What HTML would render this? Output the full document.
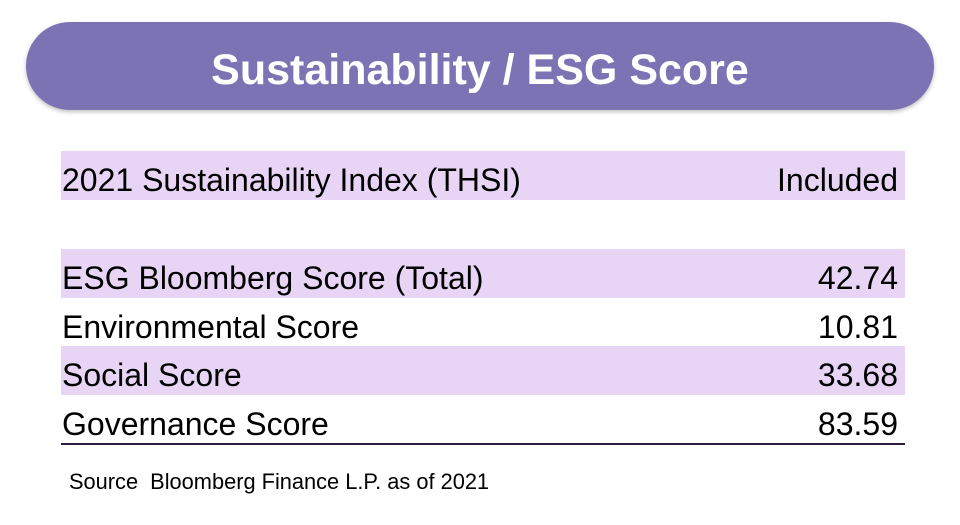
<!DOCTYPE html>
<html><head><style>
body{margin:0;width:960px;height:525px;background:#fff;position:relative;font-family:"Liberation Sans",sans-serif;overflow:hidden}
.pill{position:absolute;left:26px;top:22px;width:908px;height:88px;border-radius:44px;background:#7b73b3;box-shadow:0 2px 4px rgba(0,0,0,.25);color:#fff;font-weight:bold;font-size:43px;text-align:center;line-height:96px}
.row{position:absolute;left:61px;width:844px;height:49px;font-size:32px;line-height:58px;color:#000}
.row span.l{position:absolute;left:1px}
.row span.r{position:absolute;right:7px}
.p{background:#e8d5f5}
.line{position:absolute;left:61px;top:443px;width:844px;height:2px;background:#2e1c3e}
.src{position:absolute;left:69px;top:469px;font-size:21.8px;color:#000}
</style></head><body>
<div class="pill">Sustainability / ESG Score</div>
<div class="row p" style="top:151px"><span class="l">2021 Sustainability Index (THSI)</span><span class="r">Included</span></div>
<div class="row p" style="top:249px"><span class="l">ESG Bloomberg Score (Total)</span><span class="r">42.74</span></div>
<div class="row" style="top:298px"><span class="l">Environmental Score</span><span class="r">10.81</span></div>
<div class="row p" style="top:346px"><span class="l">Social Score</span><span class="r">33.68</span></div>
<div class="row" style="top:395px"><span class="l">Governance Score</span><span class="r">83.59</span></div>
<div class="line"></div>
<div class="src">Source&nbsp; Bloomberg Finance L.P. as of 2021</div>
</body></html>
